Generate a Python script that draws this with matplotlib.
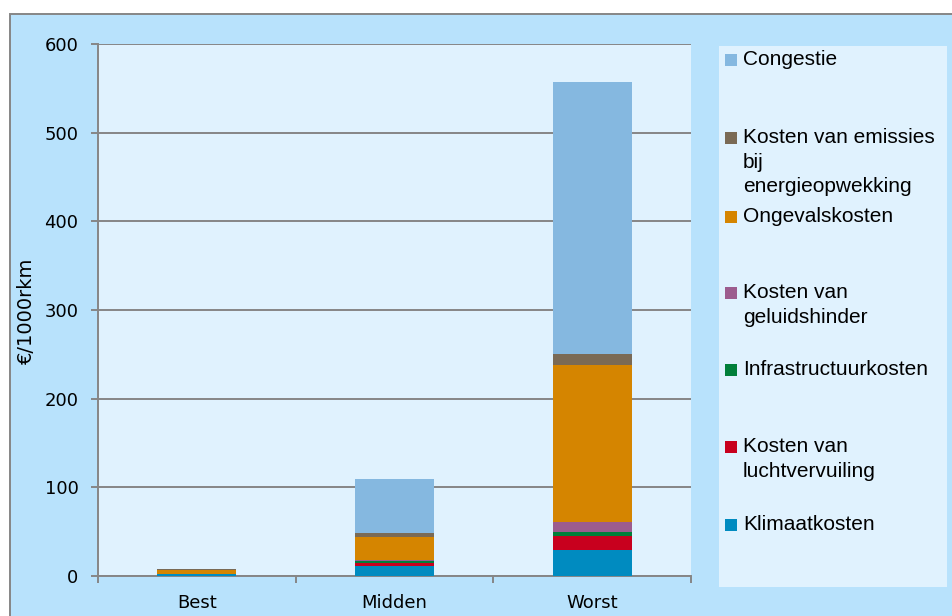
import numpy as np
import matplotlib
matplotlib.use("Agg")
import matplotlib.pyplot as plt
from matplotlib.patches import Rectangle

# data (values in euro per 1000 reizigerskilometer)
categories = ["Best", "Midden", "Worst"]
series = ["Klimaatkosten", "Kosten van\nluchtvervuiling", "Infrastructuurkosten",
          "Kosten van\ngeluidshinder", "Ongevalskosten",
          "Kosten van emissies\nbij\nenergieopwekking", "Congestie"]
klimaat = [2.0, 11.0, 29.0]
lucht = [0.3, 4.0, 15.7]
infra = [0.2, 1.5, 5.3]
geluid = [0.3, 2.0, 11.0]
ongeval = [3.5, 25.5, 177.0]
emissies = [1.5, 5.0, 12.7]
congestie = [0.5, 60.0, 307.0]
values = [klimaat, lucht, infra, geluid, ongeval, emissies, congestie]
colors = ["#008BC0", "#C8001E", "#007F3A", "#9C5C8E", "#D58500", "#7A6A55", "#85B8E0"]

yticks = [0, 100, 200, 300, 400, 500, 600]

OUTER = "#B8E2FC"
INNER = "#E0F2FE"
GRID = "#868686"

fig = plt.figure(figsize=(9.52, 6.16), dpi=100)
fig.patch.set_facecolor("white")
W, H = 952, 616

# outer chart frame (runs past the right and bottom edge of the picture)
fig.patches.append(Rectangle((10 / W, -0.1), 1.1, 1.1 - 14 / H, transform=fig.transFigure,
                             facecolor=OUTER, edgecolor=GRID, linewidth=1.4, zorder=-2))

ax = fig.add_axes([98 / W, 1 - 576 / H, (691 - 98) / W, (576 - 44) / H])
ax.set_zorder(2)
ax.set_facecolor(INNER)

x = np.arange(len(categories))
bottom = np.zeros(len(categories))
for vals, col in zip(values, colors):
    ax.bar(x, vals, 0.4, bottom=bottom, color=col, edgecolor="none", zorder=3)
    bottom += np.array(vals)

ax.set_xlim(-0.5, len(categories) - 0.5)
ax.set_ylim(0, 600)
ax.set_yticks(yticks)
ax.yaxis.grid(True, color=GRID, linewidth=1.4, zorder=1)
ax.set_axisbelow(True)

# category boundaries carry the tick marks, labels sit in the middle
ax.set_xticks(np.arange(len(categories) + 1) - 0.5)
ax.set_xticklabels([])
ax.set_xticks(x, minor=True)
ax.set_xticklabels(categories, minor=True, fontsize=13, fontfamily="DejaVu Sans")
ax.tick_params(axis="x", which="minor", length=0, pad=13)
ax.tick_params(axis="x", which="major", length=5, width=1.4, color=GRID)
ax.tick_params(axis="y", length=5, width=1.4, color=GRID, labelsize=13, pad=9)

for s in ["top", "right"]:
    ax.spines[s].set_visible(False)
for s in ["left", "bottom"]:
    ax.spines[s].set_color(GRID)
    ax.spines[s].set_linewidth(1.4)

fig.text(26 / W, 1 - 311 / H, "€/1000rkm", rotation=90, ha="center", va="center",
         fontsize=14, fontfamily="DejaVu Sans")

# legend box drawn by hand so the wrapped labels hang from their markers
fig.patches.append(Rectangle((719 / W, 1 - 587 / H), (947 - 719) / W, (587 - 46) / H,
                             transform=fig.transFigure, facecolor=INNER, edgecolor="none", zorder=1))
legend_rows = [60, 138, 217, 293, 370, 447, 525]
for label, col, yc in zip(series[::-1], colors[::-1], legend_rows):
    fig.patches.append(Rectangle((725 / W, 1 - (yc + 6) / H), 12 / W, 12 / H,
                                 transform=fig.transFigure, facecolor=col, edgecolor="none", zorder=2))
    fig.text(743 / W, 1 - (yc - 10) / H, label, ha="left", va="top", fontsize=15,
             fontfamily="Liberation Sans", linespacing=1.37, zorder=3)

fig.savefig("out.png", dpi=100, facecolor=fig.get_facecolor())
